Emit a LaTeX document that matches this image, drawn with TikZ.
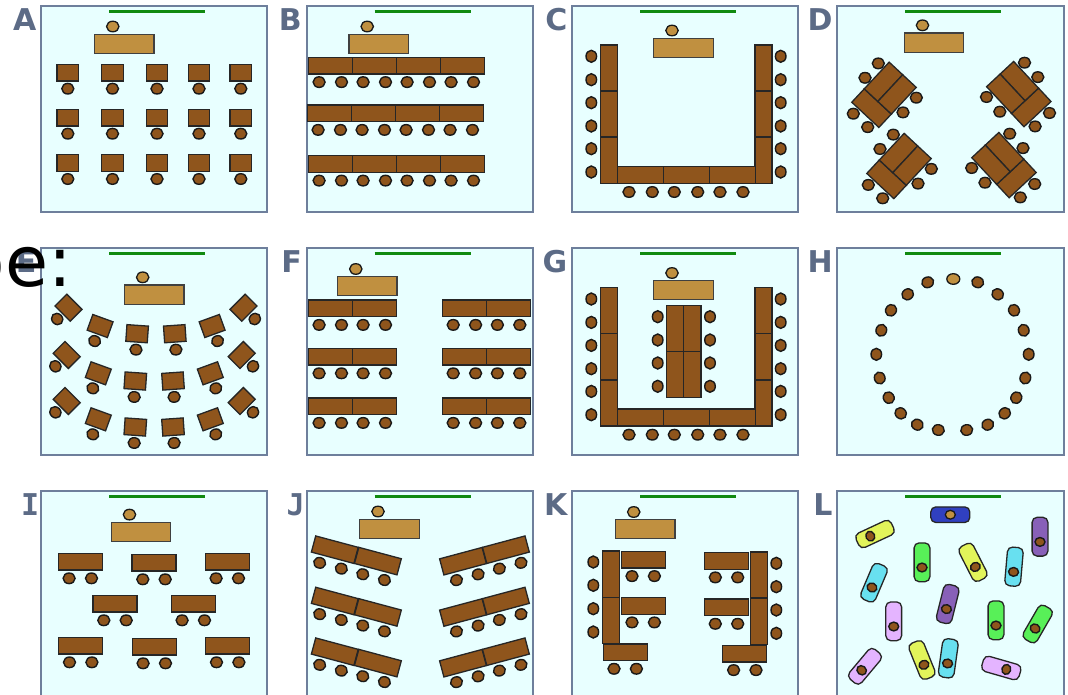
\documentclass[tikz,border=0pt]{standalone}
\usepackage{fontspec}
\setmainfont{DejaVu Sans}
\newfontfamily\monotag{DejaVu Sans Mono}
\usepackage{tikz}
\definecolor{roomfill}{HTML}{E8FFFF}
\definecolor{roomedge}{HTML}{6E7F9C}
\definecolor{boardgreen}{HTML}{108A10}
\definecolor{deskbrown}{HTML}{8F551C}
\definecolor{frontbrown}{HTML}{C09040}
\definecolor{tagslate}{HTML}{5C6B86}
\definecolor{podyellow}{HTML}{E2F45A}
\definecolor{podgreen}{HTML}{58F058}
\definecolor{podcyan}{HTML}{68E0F0}
\definecolor{podpurple}{HTML}{8860B8}
\definecolor{podpink}{HTML}{E4B4FF}
\definecolor{podblue}{HTML}{3040C0}
\tikzset{
  room/.style={draw=roomedge, fill=roomfill, line width=2pt},
  board/.style={draw=boardgreen, line width=3pt},
  desk/.style={draw=black!85, fill=deskbrown, line width=1.3pt},
  frontdesk/.style={draw=black!75, fill=frontbrown, line width=1.2pt},
  chair/.style={draw=black!90, fill=deskbrown, line width=1.4pt},
  frontchair/.style={draw=black!90, fill=frontbrown, line width=1.3pt},
  tag/.style={font=\bfseries\fontsize{30}{36}\selectfont, text=tagslate, anchor=base east, inner sep=0pt},
  pod/.style={draw=black!85, line width=1.3pt, rounded corners=5pt}
}
\newcommand{\desk}[5]{\draw[desk,shift={(#1,#2)},rotate=#5] (-#3/2,-#4/2) rectangle (#3/2,#4/2);}
\newcommand{\chair}[3][0]{\draw[chair,rotate around={#1:(#2,#3)}] (#2,#3) ellipse (6 and 5.3);}
\newcommand{\teacher}[2]{%
  \draw[frontdesk] (#1-29.7,#2-9.6) rectangle (#1+29.7,#2+9.6);
  \draw[frontchair] (#1-11.5,#2-17.2) ellipse (6.2 and 5.3);}
% one small desk, seat in front
\newcommand{\singledesk}[3]{\begin{scope}[shift={(#1,#2)},rotate=#3]
  \desk{0}{0}{21.5}{16.7}{0}\chair{0}{16}\end{scope}}
% long desk with two seats
\newcommand{\pairdesk}[3]{\begin{scope}[shift={(#1,#2)},rotate=#3]
  \desk{0}{0}{44}{16.7}{0}\chair{-11.2}{16.6}\chair{11.2}{16.6}\end{scope}}
% U of desks, used twice
\newcommand{\ushape}[1]{\begin{scope}[shift={(0,#1)}]
  \foreach \y in {68,114,160.3} {\desk{608.8}{\y}{17}{46}{0}\desk{763.5}{\y}{17}{46}{0}}
  \foreach \x in {640.3,686.3,732.3} {\desk{\x}{174.8}{46}{17}{0}}
  \foreach \y in {56.3,79.7,102.7,126,148.7,172} {\chair[90]{591.3}{\y}\chair[90]{780.7}{\y}}
  \foreach \x in {629,652.3,674.3,697.7,720,743} {\chair{\x}{192}}
  \end{scope}}
% three desks pushed together, six seats
\newcommand{\cluster}[3]{\begin{scope}[shift={(#1,#2)},xscale=#3]
  \begin{scope}[rotate=47]
    \desk{-18.25}{0}{18.3}{37}{0}
    \desk{9.15}{-9.25}{36.5}{18.5}{0}
    \desk{9.15}{9.25}{36.5}{18.5}{0}
  \end{scope}
  \foreach \x/\y in {-5.7/-31.4,-19/-17,32.3/2.9,19/17.6,-30.7/18.9,-16.3/32.3} {\chair{\x}{\y}}
  \end{scope}}
\newcommand{\capsule}[4]{\begin{scope}[shift={(#1,#2)},rotate=#3]
  \draw[pod,fill=#4] (-7.9,-19.4) rectangle (7.9,19.4);
  \draw[chair] (0,5.2) ellipse (5 and 4.4);\end{scope}}

\begin{document}
\begin{tikzpicture}[x=1pt, y=-1pt]
  \useasboundingbox (0,0) rectangle (1068,694);
  % rooms with board and letter
  \foreach \px/\py/\tag [count=\n] in {41/6/A,306.5/6/B,572/6/C,837.3/6/D,
                            41/248.4/E,306.5/248.4/F,572/248.4/G,837.3/248.4/H,
                            41/491/{\monotag I\kern-3pt},306.5/491/{\monotag J\kern-3pt},572/491/K,837.3/491/L} {
    \draw[room] (\px,\py) rectangle ++(226.3,206.3);
    \draw[board] (\px+68,\py+5) -- (\px+164,\py+5);
    \node[tag] (tag\n) at (\px-4.5,\py+24.3) {\tag};
  }
  \foreach \x/\y in {124.3/43.7,378.7/43.7,683.5/47.7,934/42.5,154.2/294.5,367.3/286.2,
                     683.5/290.2,141/531.8,389.5/528.7,645.2/529.2} {
    \teacher{\x}{\y}
  }
  % A
  \foreach \x in {67.8,112.5,157,199,240.8}
    \foreach \y in {72.7,117.7,163} {
      \singledesk{\x}{\y}{0}
    }
  % B
  \foreach \x/\y in {330.3/65.5,374.3/65.5,418.3/65.5,462.3/65.5,
                     329.3/113.3,373.3/113.3,417.3/113.3,461.3/113.3,
                     330.3/164,374.3/164,418.3/164,462.3/164} {
    \pairdesk{\x}{\y}{0}
  }
  % C
  \ushape{0}
  % D
  \cluster{884}{94.8}{1}
  \cluster{899}{166}{1}
  \cluster{1018.8}{94.1}{-1}
  \cluster{1004}{165.1}{-1}
  % E, three curved rows
  \foreach \dx/\dy in {1.8/-47.3,0/0,0/46}
    \foreach \x/\y/\r in {66.7/355/-45,98.3/373.3/-20,135.3/381/-4,173/381/4,210.3/373.3/20,241.7/355/45} {
      \pgfmathsetmacro\cx{\x+\dx}
      \pgfmathsetmacro\cy{\y+\dy}
      \singledesk{\cx}{\cy}{\r}
    }
  % F
  \foreach \y in {308.3,356.7,406.3} {
    \pairdesk{330.3}{\y}{0}
    \pairdesk{374.3}{\y}{0}
    \pairdesk{464.4}{\y}{0}
    \pairdesk{508.6}{\y}{0}
  }
  % G
  \ushape{242.7}
  \foreach \x in {675,692.3}
    \foreach \y in {328.3,374.3} {
      \desk{\x}{\y}{17.3}{46}{0}
    }
  \foreach \y in {316.7,340,363,386.3} {\chair[90]{657.7}{\y}\chair[90]{710}{\y}}
  % H, ring of seats
  \foreach \x/\y in {927.7/282.3,907.7/294.3,891/310.3,881.3/330.3,876.3/354.3,879.7/378,
                     888.7/397.7,900.7/413.3,917.3/424.7,938.3/430,966.7/430,987.7/424.7,
                     1004.7/413.3,1016.3/397.7,1025.3/378,1028.7/354.3,1023.7/330.3,
                     1014/310.3,997.7/294.3,977.7/282.3} {
    \pgfmathsetmacro\r{atan2(354.3-\y,\x-953)-90}
    \chair[\r]{\x}{\y}
  }
  \draw[frontchair] (953.3,279) ellipse (6.5 and 5.3);
  % I
  \foreach \x/\y in {80.3/561.7,154/562.7,227.3/561.7,115/603.7,193.3/603.7,
                     80.7/645.7,154.3/646.7,227.7/645.7} {
    \pairdesk{\x}{\y}{0}
  }
  % J, desks angled to the middle
  \foreach \dy in {0,51.3,102} {
    \pairdesk{334.8}{549.7+\dy}{-15}
    \pairdesk{377.9}{561.1+\dy}{-15}
    \pairdesk{463}{561.2+\dy}{15}
    \pairdesk{505.9}{549.7+\dy}{15}
  }
  % K
  \foreach \y in {574.2,620.5} {\desk{611}{\y}{17.4}{46.3}{0}}
  \foreach \y in {575,621.2} {\desk{759}{\y}{17.4}{46.3}{0}}
  \foreach \x/\y in {643.2/559.5,643.2/605.8,625.2/652.2,726.5/560.8,726.5/607.2,744.8/653.5} {
    \pairdesk{\x}{\y}{0}
  }
  \foreach \y in {562,585.3,608.7,632} {\chair[90]{593.3}{\y}}
  \foreach \y in {563.3,586.7,610,633.3} {\chair[90]{776.3}{\y}}
  % L, free seats
  \draw[pod,fill=podblue] (930.8,506.9) rectangle (969.8,522.5);
  \draw[frontchair] (950.3,514.7) ellipse (5 and 4.4);
  \foreach \x/\y/\r/\c in {875/534/-65/podyellow,922/562.3/0/podgreen,973/562.3/27/podyellow,
                           1014/566.7/-5/podcyan,1040/536.7/0/podpurple,874/582.7/-23/podcyan,
                           947.7/604/-14/podpurple,893.7/621.3/0/podpink,996/620.3/0/podgreen,
                           1037.7/624/-30/podgreen,865/666.3/-40/podpink,922/660/22/podyellow,
                           948.3/658.3/-8/podcyan,1001.3/668/74/podpink} {
    \capsule{\x}{\y}{\r}{\c}
  }
  % large cut-off word on top of it all
  \node[font=\fontsize{70}{84}\selectfont, anchor=base east, inner sep=0pt, text=black] (word) at (72,286) {pe:};
\end{tikzpicture}
\end{document}
